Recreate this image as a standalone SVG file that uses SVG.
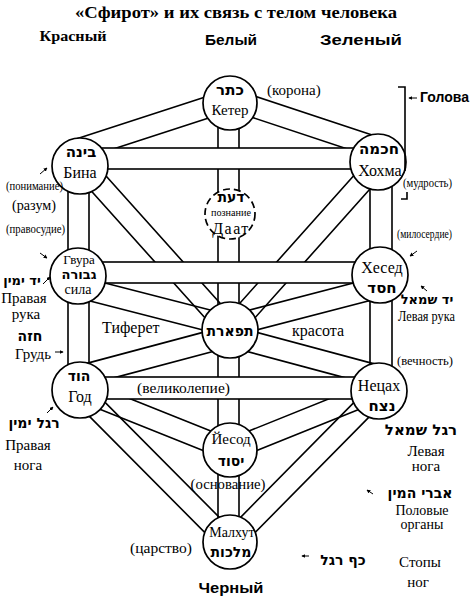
<svg xmlns="http://www.w3.org/2000/svg" width="471" height="600" viewBox="0 0 471 600">
<defs>
<style>
.ln{fill:none;stroke:#000;stroke-width:1.6}
.pipe{fill:#fff;stroke:#000;stroke-width:1.6}
.nd{fill:#fff;stroke:#000;stroke-width:1.7}
.dash{stroke-dasharray:7 4}
.t{font-family:"Liberation Serif","DejaVu Serif",serif;fill:#000}
.c{text-anchor:middle}
.he{font-family:"DejaVu Sans","Liberation Sans",sans-serif;font-weight:bold;text-anchor:middle;fill:#000}
.sb{font-family:"Liberation Sans",Arial,sans-serif;font-weight:bold;fill:#000}
.ar{stroke:#000;stroke-width:1;fill:none;marker-end:url(#ah)}
</style>
<marker id="ah" viewBox="0 0 6 6" refX="5" refY="3" markerWidth="4" markerHeight="4" orient="auto"><path d="M0,0L6,3L0,6z" fill="#000"/></marker>
</defs>
<rect width="471" height="600" fill="#fff"/>

<text class="t c" x="236" y="18" font-size="17" font-weight="bold" textLength="322" lengthAdjust="spacingAndGlyphs">«Сфирот» и их связь с телом человека</text>
<text class="t c" x="73" y="41" font-size="15" font-weight="bold" textLength="67" lengthAdjust="spacingAndGlyphs">Красный</text>
<text class="sb c" x="231" y="45" font-size="15" textLength="52" lengthAdjust="spacingAndGlyphs">Белый</text>
<text class="sb c" x="361" y="45" font-size="15" textLength="82" lengthAdjust="spacingAndGlyphs">Зеленый</text>

<g id="connectors">
 <g class="ln">
  <path transform="translate(230 100) rotate(162)" d="M0-10.5H168.2M0 10.5H168.2"/>
  <path transform="translate(230 99) rotate(18.33)" d="M0-10.5H168.5M0 10.5H168.5"/>
  <path transform="translate(83 166) rotate(48.13)" d="M0-10.5H220.2M0 10.5H220.2"/>
  <path transform="translate(380 162) rotate(131.76)" d="M0-10.5H225.2M0 10.5H225.2"/>
  <path transform="translate(78 287) rotate(14.39)" d="M0-10.5H156.9M0 10.5H156.9"/>
  <path transform="translate(380 287) rotate(165.43)" d="M0-10.5H155M0 10.5H155"/>
  <path transform="translate(80 376) rotate(-14.93)" d="M0-10.5H155.2M0 10.5H155.2"/>
  <path transform="translate(379 376) rotate(195.03)" d="M0-10.5H154.3M0 10.5H154.3"/>
  <path transform="translate(80 390) rotate(21.8)" d="M0-10.5H161.6M0 10.5H161.6"/>
  <path transform="translate(379 390) rotate(158.07)" d="M0-10.5H160.6M0 10.5H160.6"/>
  <path transform="translate(80 392) rotate(45.19)" d="M0-10.5H212.8M0 10.5H212.8"/>
  <path transform="translate(379 392) rotate(134.62)" d="M0-10.5H212.1M0 10.5H212.1"/>
  <path d="M218 103V542M239 103V542M68 166V390M89 166V390M370 162V391M392 162V391"/>
 </g>
 <rect class="pipe" x="80" y="148" width="298" height="21"/>
 <rect class="pipe" x="78" y="262" width="302" height="21"/>
 <rect class="pipe" x="80" y="377" width="299" height="22"/>
</g>

<g id="keter">
 <circle class="nd" cx="230" cy="103" r="27"/>
 <text class="he" x="230" y="95" font-size="15">כתר</text>
 <text class="t c" x="230" y="115" font-size="15">Кетер</text>
</g>
<g id="bina">
 <circle class="nd" cx="80" cy="166" r="28"/>
 <text class="he" x="81" y="157" font-size="15">בינה</text>
 <text class="t c" x="80" y="178" font-size="16">Бина</text>
</g>
<g id="hokhma">
 <circle class="nd" cx="378" cy="162" r="28"/>
 <text class="he" x="379" y="154" font-size="15">חכמה</text>
 <text class="t c" x="380" y="176" font-size="16">Хохма</text>
</g>
<g id="daat">
 <circle class="nd dash" cx="230" cy="214" r="25"/>
 <text class="he" x="231" y="202" font-size="14">דעת</text>
 <text class="t c" x="231" y="216" font-size="10" textLength="40" lengthAdjust="spacingAndGlyphs">познание</text>
 <text class="t c" x="231" y="234" font-size="16" letter-spacing="1.5">Даат</text>
</g>
<g id="gevura">
 <circle class="nd" cx="78" cy="276" r="28"/>
 <text class="t c" x="79" y="264" font-size="13">Гвура</text>
 <text class="he" x="79" y="279" font-size="13">גבורה</text>
 <text class="t c" x="78" y="294" font-size="14">сила</text>
</g>
<g id="hesed">
 <circle class="nd" cx="380" cy="275" r="28"/>
 <text class="t c" x="382" y="273" font-size="16">Хесед</text>
 <text class="he" x="382" y="293" font-size="15">חסד</text>
</g>
<g id="tiferet">
 <circle class="nd" cx="230" cy="330" r="28"/>
 <text class="he" x="230" y="336" font-size="14">תפארת</text>
</g>
<g id="hod">
 <circle class="nd" cx="80" cy="390" r="28"/>
 <text class="he" x="79" y="381" font-size="14">הוד</text>
 <text class="t c" x="80" y="402" font-size="16">Год</text>
</g>
<g id="netzach">
 <circle class="nd" cx="379" cy="391" r="28"/>
 <text class="t c" x="379" y="391" font-size="16">Нецах</text>
 <text class="he" x="382" y="411" font-size="15">נצח</text>
</g>
<g id="yesod">
 <circle class="nd" cx="230" cy="450" r="27"/>
 <text class="t c" x="231" y="444" font-size="15">Йесод</text>
 <text class="he" x="231" y="466" font-size="14">יסוד</text>
</g>
<g id="malkhut">
 <circle class="nd" cx="230" cy="542" r="27"/>
 <text class="t c" x="232" y="537" font-size="14">Малхут</text>
 <text class="he" x="231" y="557" font-size="14">מלכות</text>
</g>

<g id="labels">
 <text class="t" x="267" y="95" font-size="15">(корона)</text>
 <path class="ln" d="M398 87H405V171M407 192V199H401" stroke-width="1.2"/>
 <path class="ar" d="M417 98H409"/>
 <text class="sb" x="420" y="102" font-size="14">Голова</text>
 <text class="t" x="403" y="187" font-size="12" textLength="49" lengthAdjust="spacingAndGlyphs">(мудрость)</text>

 <text class="t" x="6" y="190" font-size="12" textLength="57" lengthAdjust="spacingAndGlyphs">(понимание)</text>
 <path class="ar" d="M40 174L47 168"/>
 <text class="t" x="12" y="210" font-size="15" textLength="44" lengthAdjust="spacingAndGlyphs">(разум)</text>
 <text class="t" x="6" y="233" font-size="12" textLength="59" lengthAdjust="spacingAndGlyphs">(правосудие)</text>
 <path class="ar" d="M40 253L47 258"/>

 <text class="he" x="22" y="285" font-size="13">יד ימין</text>
 <path class="ar" d="M43 284L50 277"/>
 <text class="t c" x="24" y="303" font-size="15">Правая</text>
 <text class="t c" x="26" y="319" font-size="15">рука</text>
 <text class="he" x="30" y="341" font-size="14">חזה</text>
 <text class="t" x="15" y="359" font-size="15">Грудь</text>
 <path class="ar" d="M55 352H63"/>

 <text class="t" x="102" y="333" font-size="16">Тиферет</text>
 <text class="t" x="292" y="336" font-size="16">красота</text>
 <text class="t" x="137" y="393" font-size="15" textLength="93" lengthAdjust="spacingAndGlyphs">(великолепие)</text>

 <path class="ar" d="M47 413L53 407"/>
 <text class="he" x="34" y="428" font-size="14">רגל ימין</text>
 <text class="t c" x="28" y="450" font-size="15">Правая</text>
 <text class="t c" x="28" y="470" font-size="15">нога</text>

 <text class="t c" x="228" y="489" font-size="14" textLength="75" lengthAdjust="spacingAndGlyphs">(основание)</text>
 <text class="t" x="130" y="553" font-size="15" textLength="62" lengthAdjust="spacingAndGlyphs">(царство)</text>
 <text class="sb c" x="231" y="593" font-size="15" textLength="65" lengthAdjust="spacingAndGlyphs">Черный</text>

 <text class="t" x="397" y="238" font-size="12" textLength="55" lengthAdjust="spacingAndGlyphs">(милосердие)</text>
 <path class="ar" d="M417 251L410 256"/>
 <path class="ar" d="M427 291L421 286"/>
 <text class="he" x="427" y="304" font-size="13">יד שמאל</text>
 <text class="t" x="398" y="321" font-size="14" textLength="57" lengthAdjust="spacingAndGlyphs">Левая рука</text>
 <text class="t" x="397" y="365" font-size="13" textLength="56" lengthAdjust="spacingAndGlyphs">(вечность)</text>

 <text class="he" x="421" y="435" font-size="15">רגל שמאל</text>
 <text class="t c" x="426" y="456" font-size="15">Левая</text>
 <text class="t c" x="426" y="471" font-size="15">нога</text>
 <path class="ar" d="M373 494L367 490"/>
 <text class="he" x="420" y="498" font-size="14">אברי המין</text>
 <text class="t c" x="422" y="515" font-size="14">Половые</text>
 <text class="t c" x="422" y="529" font-size="14">органы</text>
 <path class="ar" d="M309 556H302"/>
 <text class="he" x="343" y="565" font-size="14">כף רגל</text>
 <text class="t c" x="420" y="567" font-size="15">Стопы</text>
 <text class="t c" x="418" y="587" font-size="15">ног</text>
</g>
</svg>
